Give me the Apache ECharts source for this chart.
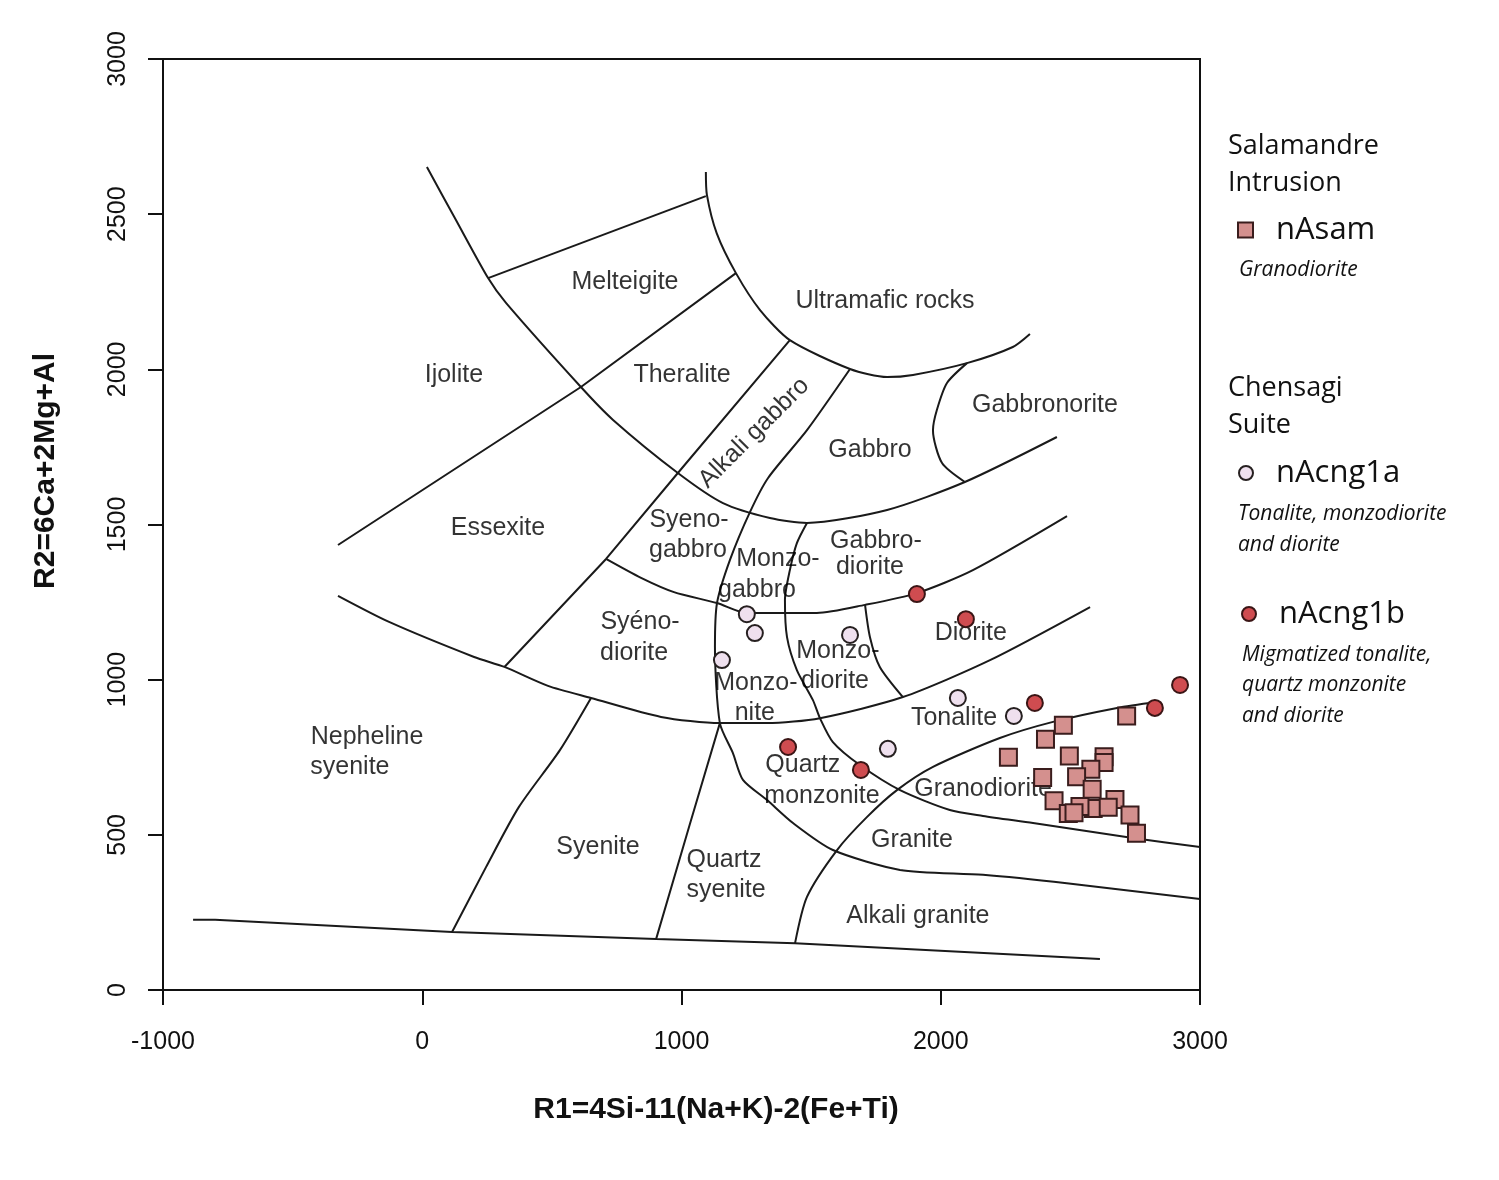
<!DOCTYPE html>
<html><head><meta charset="utf-8">
<script src="https://cdn.jsdelivr.net/npm/echarts@6/dist/echarts.min.js"></script>
<style>html,body{margin:0;padding:0;background:#fff}#c{width:1499px;height:1180px}</style>
</head><body><div id="c"></div>
<script>
// ---- axes ----
const xMin = -1000, xMax = 3000, xStep = 1000;
const yMin = 0, yMax = 3000, yStep = 500;
const xTitle = 'R1=4Si-11(Na+K)-2(Fe+Ti)';
const yTitle = 'R2=6Ca+2Mg+Al';

// ---- samples ----
const nAsam = [[2717,883],[2473,853],[2404,808],[2261,750],[2496,754],[2630,752],[2630,733],[2579,711],[2524,687],[2393,685],[2584,647],[2437,610],[2672,614],[2588,585],[2537,591],[2646,589],[2492,569],[2514,571],[2730,564],[2755,505]];
const nAcng1a = [[1252,1211],[1283,1150],[1156,1063],[1650,1144],[2066,941],[2282,883],[1796,777]];
const nAcng1b = [[1908,1276],[2097,1195],[2363,925],[2826,909],[2923,983],[1411,783],[1692,709]];

// ---- field boundaries (R1, R2) ----
const bArc = [[18,2652],[130,2481],[254,2294],[323,2214],[612,1943],[736,1837],[986,1666],[1160,1569],[1341,1521],[1484,1505],[1793,1547],[2093,1637],[2448,1782]];
const bMelteigite = [[254,2294],[1094,2558]];
const bUltramafic = [[1094,2636],[1098,2562],[1136,2438],[1210,2310],[1303,2191],[1418,2094],[1650,2001],[1793,1975],[1893,1982],[2101,2020],[2278,2072],[2344,2114]];
const bIjolite = [[-325,1434],[612,1943],[1210,2310]];
const bAlkGabbroL = [[317,1041],[709,1389],[986,1666],[1418,2094]];
const bAlkGabbroR = [[1650,2001],[1484,1804],[1334,1650],[1264,1540],[1187,1386],[1137,1247],[1129,1105],[1148,860],[1198,764],[1237,677],[1330,612],[1430,538],[1584,451],[1843,387],[2163,371],[2486,344],[3000,293]];
const bQzMonzonite = [[1484,1505],[1445,1440],[1418,1353],[1399,1257],[1407,1137],[1445,1031],[1507,934],[1534,876],[1584,799],[1688,725],[1843,644],[2035,580],[2163,561],[2356,538],[2741,490],[3000,461]];
const bGranodiorite = [[1438,151],[1484,300],[1600,451],[1715,557],[1831,644],[1970,719],[2228,812],[2433,864],[2680,909],[2834,928]];
const bNephSyenite = [[-325,1270],[-128,1186],[200,1073],[317,1041],[485,980],[651,941],[921,880],[1148,860],[1330,860],[1534,876],[1854,944],[2190,1063],[2576,1234]];
const bSyenite = [[651,941],[531,773],[373,590],[246,396],[115,187]];
const bQzSyenite = [[1148,860],[1029,525],[902,164]];
const bBase = [[-884,226],[-799,226],[115,187],[902,164],[1438,151],[2614,100]];
const bMonzogabbro = [[709,1389],[844,1328],[971,1282],[1137,1247],[1252,1215],[1522,1215],[1708,1241],[1908,1279],[2124,1353],[2487,1527]];
const bDiorite = [[1708,1241],[1727,1137],[1765,1041],[1854,944]];
const bGabbronorite = [[2101,2020],[2024,1956],[1985,1869],[1970,1804],[2005,1698],[2093,1637]];
const straightLines = [bMelteigite,bIjolite,bAlkGabbroL,bQzSyenite,bBase];
const curvedLines = [bArc,bUltramafic,bAlkGabbroR,bQzMonzonite,bGranodiorite,bNephSyenite,bSyenite,bMonzogabbro,bDiorite,bGabbronorite];

// ---- field names ----
const fieldNames = ['Melteigite','Ultramafic rocks','Ijolite','Theralite','Alkali gabbro','Gabbronorite','Gabbro','Essexite','Syeno-','gabbro','Gabbro-','diorite','Monzo-','gabbro','Syéno-','diorite','Monzo-','diorite','Diorite','Monzo-','nite','Tonalite','Nepheline','syenite','Quartz','monzonite','Granodiorite','Syenite','Granite','Quartz','syenite','Alkali granite'];
const fieldPos = [[782,2281],[1785,2220],[122,1982],[1002,1982],[1280,1795],[2402,1885],[1727,1740],[292,1489],[1029,1514],[1025,1418],[1750,1447],[1727,1363],[1372,1389],[1291,1289],[840,1186],[817,1086],[1603,1092],[1592,996],[2116,1150],[1287,989],[1283,893],[2051,876],[-213,815],[-279,719],[1468,725],[1542,625],[2163,648],[678,461],[1889,483],[1164,419],[1172,322],[1912,238]];

// ---- legend text ----
const group1 = ['Salamandre','Intrusion'];
const group2 = ['Chensagi','Suite'];
const desc1 = ['Granodiorite'];
const desc2 = ['Tonalite, monzodiorite','and diorite'];
const desc3 = ['Migmatized tonalite,','quartz monzonite','and diorite'];

const FONT = '"Liberation Sans", Arial, sans-serif';
const LFONT = '"Open Sans", "Noto Sans", sans-serif';

const chart = echarts.init(document.getElementById('c'), null, {renderer:'canvas'});

const series = [];
straightLines.forEach(b => series.push({
  type:'line', data:b, symbol:'none', silent:true, z:2,
  lineStyle:{color:'#1a1a1a', width:2}, animation:false
}));
curvedLines.forEach(b => series.push({
  type:'line', data:b, symbol:'none', silent:true, z:2, smooth:0.25,
  lineStyle:{color:'#1a1a1a', width:2}, animation:false
}));
series.push({
  type:'scatter', silent:true, z:3, symbolSize:0, animation:false,
  itemStyle:{color:'#000'},
  data: fieldNames.map((n,i)=>({
    name:n, value:fieldPos[i],
    label: n === 'Alkali gabbro' ? {rotate:45} : undefined
  })),
  label:{show:true, position:'inside', formatter:p=>p.name, fontFamily:FONT, fontSize:25, color:'#000', textBorderWidth:0}
});
series.push({name:'nAsam', type:'scatter', data:nAsam, symbol:'rect', symbolSize:17, z:5, animation:false,
  itemStyle:{color:'#d4908e', borderColor:'#3a1d1d', borderWidth:2, opacity:1}});
series.push({name:'nAcng1a', type:'scatter', data:nAcng1a, symbol:'circle', symbolSize:16, z:5, animation:false,
  itemStyle:{color:'#efe0ee', borderColor:'#262020', borderWidth:2, opacity:1}});
series.push({name:'nAcng1b', type:'scatter', data:nAcng1b, symbol:'circle', symbolSize:16, z:5, animation:false,
  itemStyle:{color:'#cf4c50', borderColor:'#3a1515', borderWidth:2, opacity:1}});

const legendBase = (name, left, top, size) => ({
  data:[name], left:left, top:top, orient:'vertical', selectedMode:false,
  itemWidth:size, itemHeight:size, padding:0,
  textStyle:{fontFamily:LFONT, fontSize:31, color:'#111', padding:[0,0,0,18], lineHeight:36}
});

const graphics = [];
function addLines(lines, x, y0, dy, size, italic){
  lines.forEach((t,i)=>graphics.push({type:'text', x:x, y:y0+i*dy, silent:true,
    style:{text:t, fill:'#111', font:(italic?'italic ':'')+size+'px '+LFONT, verticalAlign:'middle', align:'left'}}));
}
addLines(group1, 1228, 146, 37, 27, false);
addLines(group2, 1228, 388, 37, 27, false);
addLines(desc1, 1239, 270, 31, 21, true);
addLines(desc2, 1238, 514, 31, 21, true);
addLines(desc3, 1242, 655, 30.5, 21, true);
graphics.push({type:'text', x:716, y:1110, silent:true,
  style:{text:xTitle, fill:'#111', font:'bold 30px '+FONT, align:'center', verticalAlign:'middle'}});
graphics.push({type:'text', x:46, y:471, rotation:Math.PI/2, silent:true,
  style:{text:yTitle, fill:'#111', font:'bold 30px '+FONT, align:'center', verticalAlign:'middle'}});

const plain = v => String(v);

chart.setOption({
  animation:false,
  backgroundColor:'#fff',
  grid:{left:163, right:299, top:59, bottom:190, show:true, borderColor:'#111', borderWidth:2, backgroundColor:'transparent'},
  xAxis:{type:'value', min:xMin, max:xMax, interval:xStep,
    axisLine:{show:true, onZero:false, lineStyle:{color:'#111', width:2}},
    axisTick:{show:true, length:15, lineStyle:{color:'#111', width:2}},
    axisLabel:{fontFamily:FONT, fontSize:25, color:'#111', margin:40, formatter:plain},
    splitLine:{show:false}},
  yAxis:{type:'value', min:yMin, max:yMax, interval:yStep,
    axisLine:{show:true, onZero:false, lineStyle:{color:'#111', width:2}},
    axisTick:{show:true, length:15, lineStyle:{color:'#111', width:2}},
    axisLabel:{fontFamily:FONT, fontSize:25, color:'#111', margin:32, rotate:90, formatter:plain},
    splitLine:{show:false}},
  legend:[
    legendBase('nAsam', 1237, 212, 15),
    legendBase('nAcng1a', 1238, 455, 14),
    legendBase('nAcng1b', 1241, 596, 14)
  ],
  graphic:graphics,
  series:series
});
</script></body></html>
